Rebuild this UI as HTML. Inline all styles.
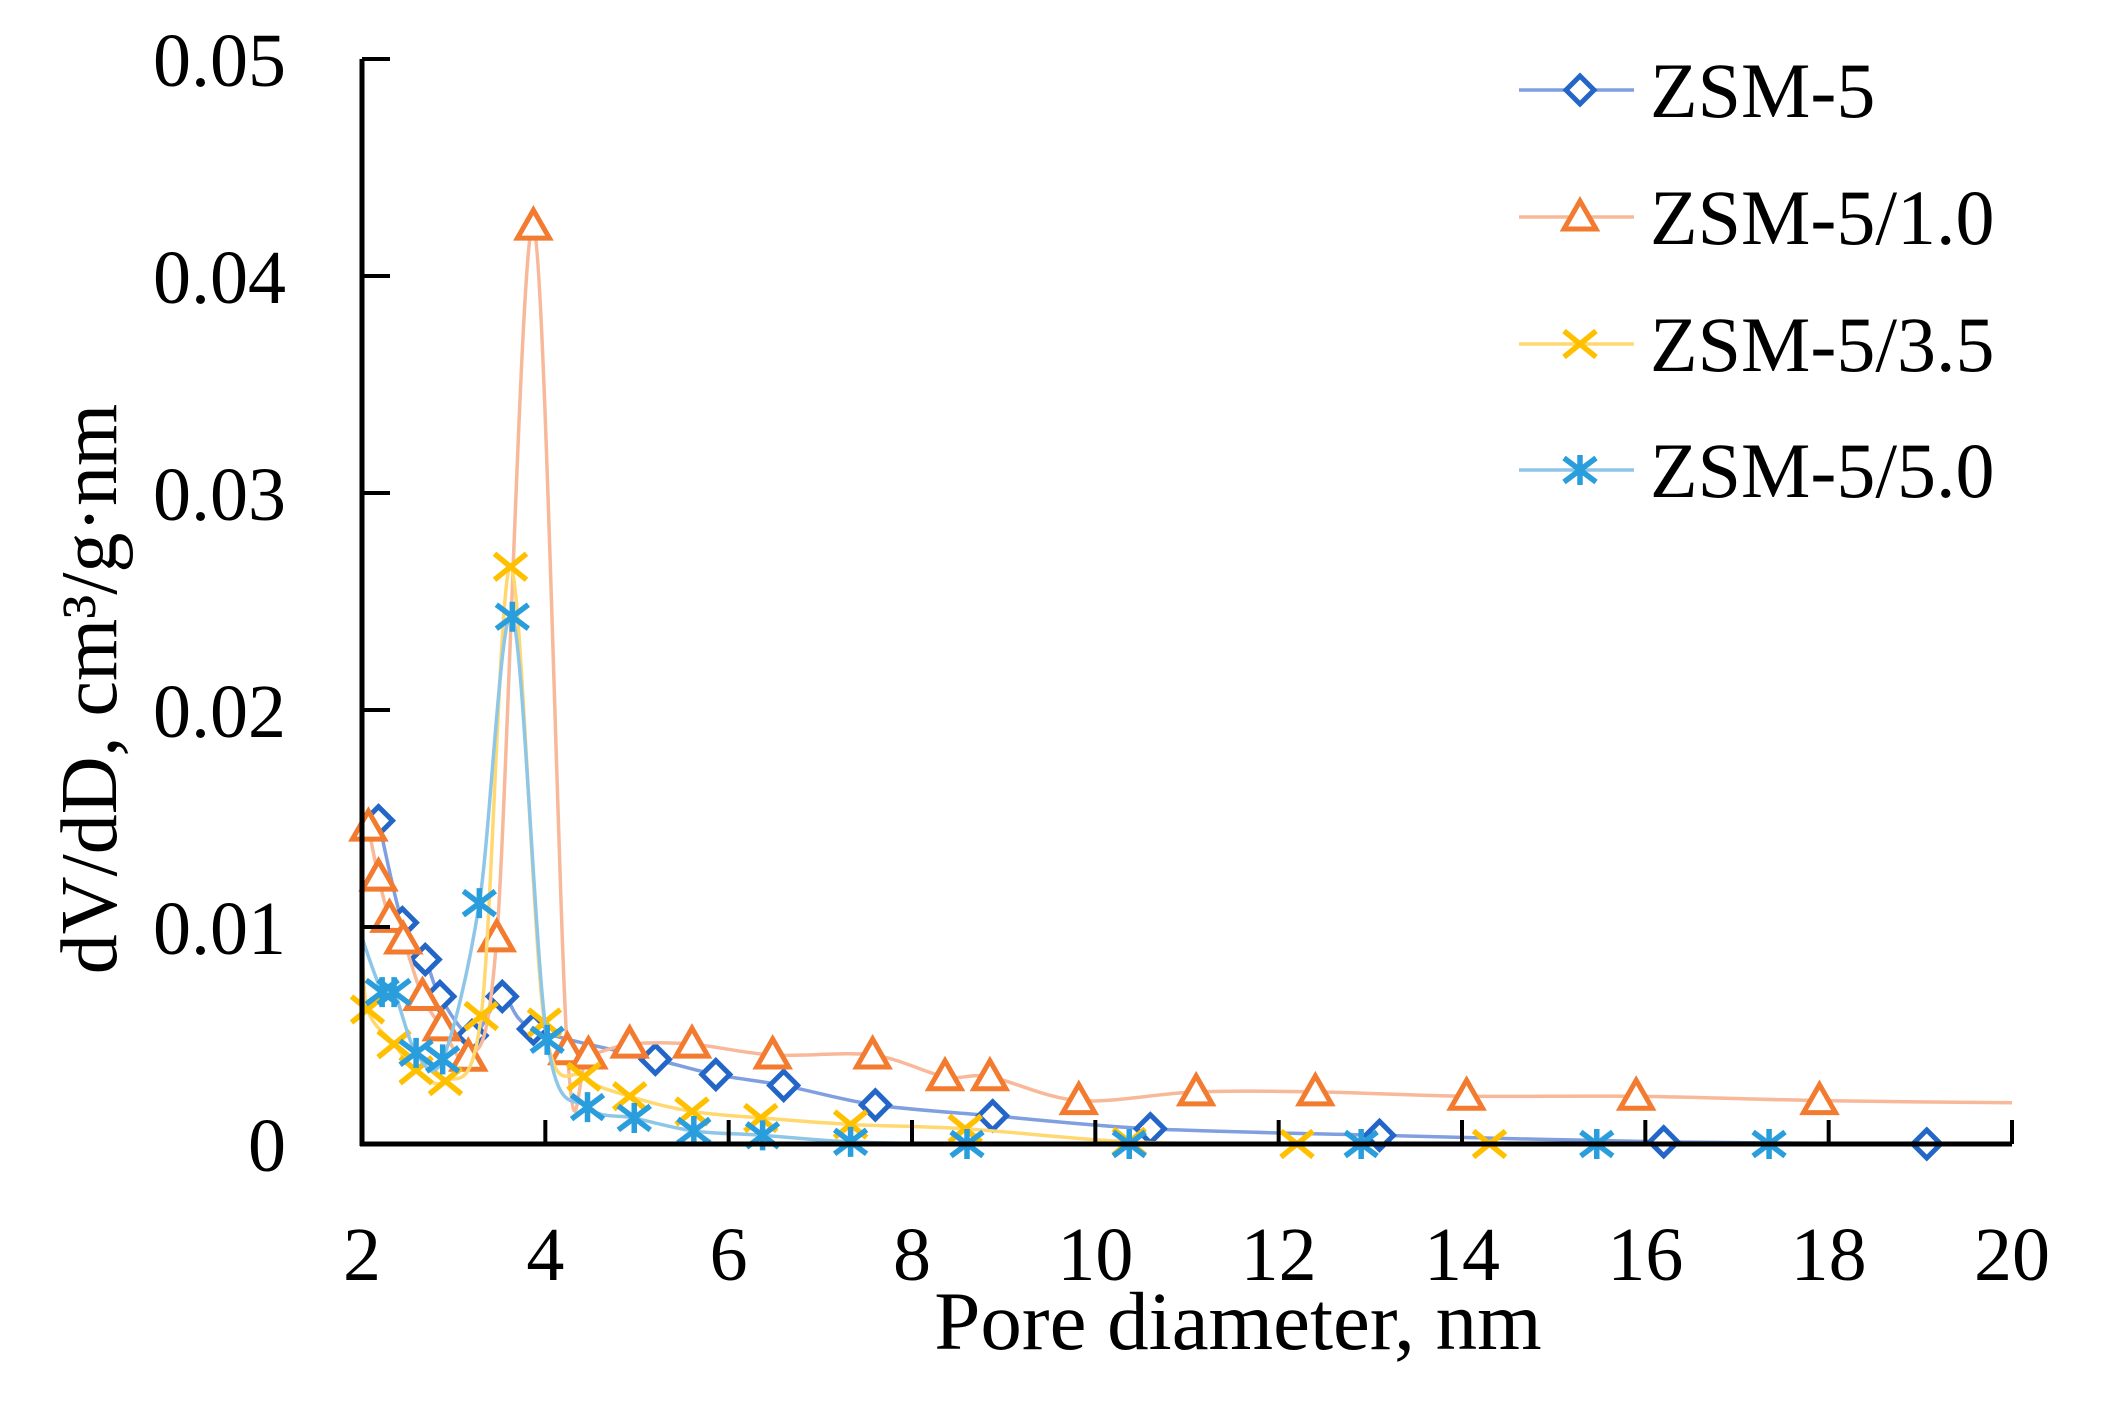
<!DOCTYPE html>
<html><head><meta charset="utf-8"><style>
html,body{margin:0;padding:0;background:#fff;}
svg{display:block;font-family:"Liberation Serif",serif;}
</style></head><body>
<svg id="chart" width="2117" height="1419" viewBox="0 0 2117 1419" xmlns="http://www.w3.org/2000/svg">
<rect width="2117" height="1419" fill="#fff"/>
<g id="series"></g>
<g id="axes"></g>
<g id="legend"></g>
<text x="1238" y="1349" font-size="83" text-anchor="middle">Pore diameter, nm</text>
<text transform="translate(116,689) rotate(-90)" font-size="80" text-anchor="middle">dV/dD, cm³/g·nm</text>
</svg>
<script>
const xTicks=[2,4,6,8,10,12,14,16,18,20];
const yTicks=[0,0.01,0.02,0.03,0.04,0.05];
const yTickLabels=["0","0.01","0.02","0.03","0.04","0.05"];
const seriesNames=["ZSM-5","ZSM-5/1.0","ZSM-5/3.5","ZSM-5/5.0"];
const zsm5X=[2.18,2.44,2.69,2.85,3.2,3.53,3.87,5.2,5.86,6.6,7.6,8.88,10.6,13.1,16.2,19.07];
const zsm5Y=[0.0149,0.0102,0.0085,0.0068,0.005,0.0068,0.0053,0.0039,0.0032,0.0027,0.0018,0.0013,0.0007,0.0004,0.0001,0];
const z10X=[2.07,2.18,2.3,2.45,2.66,2.87,3.16,3.47,3.87,4.24,4.47,4.92,5.6,6.48,7.57,8.36,8.85,9.82,11.1,12.4,14.05,15.9,17.9,20];
const z10Y=[0.0146,0.0123,0.0104,0.0094,0.0068,0.0054,0.004,0.0095,0.0423,0.0043,0.0041,0.0046,0.0046,0.0041,0.0041,0.0031,0.0031,0.002,0.0024,0.0024,0.0022,0.0022,0.002,0.0019];
const z35X=[2.0,2.06,2.35,2.59,2.91,3.3,3.62,3.99,4.42,4.92,5.6,6.35,7.33,8.58,10.37,12.2,14.3,20];
const z35Y=[0.0095,0.0062,0.0046,0.0034,0.0029,0.0059,0.0266,0.0056,0.0031,0.0022,0.0015,0.0012,0.0009,0.0007,0.0001,0,0,0];
const z50X=[2.0,2.22,2.35,2.59,2.88,3.28,3.64,4.02,4.46,4.97,5.62,6.37,7.33,8.6,10.37,12.9,15.47,17.35,20];
const z50Y=[0.0095,0.007,0.007,0.0042,0.0039,0.0111,0.0243,0.0048,0.0017,0.0012,0.0006,0.0004,0.0001,0,0,0,0,0,0];
const z35Markers=[false,true,true,true,true,true,true,true,true,true,true,true,true,true,true,true,true,false];
const z50Markers=[false,true,true,true,true,true,true,true,true,true,true,true,true,true,true,true,true,true,false];

const X0=362,X1=2012,Y0=1144,Y1=59;
function sx(v){return X0+(v-2)/18*(X1-X0);}
function sy(v){return Y0-v/0.05*(Y0-Y1);}
const NS="http://www.w3.org/2000/svg";
function mk(tag,attrs,parent){const e=document.createElementNS(NS,tag);for(const k in attrs)e.setAttribute(k,attrs[k]);parent.appendChild(e);return e;}
function smooth(pts){
  let d="M"+pts[0][0]+","+pts[0][1];
  for(let i=0;i<pts.length-1;i++){
    const p0=pts[Math.max(0,i-1)],p1=pts[i],p2=pts[i+1],p3=pts[Math.min(pts.length-1,i+2)];
    const t=0.16;
    const c1=[p1[0]+(p2[0]-p0[0])*t,p1[1]+(p2[1]-p0[1])*t];
    const c2=[p2[0]-(p3[0]-p1[0])*t,p2[1]-(p3[1]-p1[1])*t];
    d+=" C"+c1+" "+c2+" "+p2;
  }
  return d;
}
function marker(type,x,y,color,parent){
  const s=14;let e;
  if(type==="diamond"){e=mk("polygon",{points:`${x},${y-s} ${x+s},${y} ${x},${y+s} ${x-s},${y}`,fill:"#fff",stroke:color,"stroke-width":5},parent);}
  else if(type==="triangle"){e=mk("polygon",{points:`${x},${y-16} ${x+16},${y+12} ${x-16},${y+12}`,fill:"#fff",stroke:color,"stroke-width":5},parent);}
  else if(type==="x"){e=mk("path",{d:`M${x-16},${y-13}L${x+16},${y+13}M${x-16},${y+13}L${x+16},${y-13}`,stroke:color,"stroke-width":5.5,fill:"none"},parent);}
  else {e=mk("path",{d:`M${x-16},${y-12}L${x+16},${y+12}M${x-16},${y+12}L${x+16},${y-12}M${x},${y-15}L${x},${y+15}`,stroke:color,"stroke-width":5.5,fill:"none"},parent);}
  return e;
}
const sg=document.getElementById("series");
const defs=[
 {name:"zsm-5",xs:zsm5X,ys:zsm5Y,line:"#7f9fe0",mc:"#2466c8",m:"diamond",show:null},
 {name:"zsm-5-1-0",xs:z10X,ys:z10Y,line:"#f8b89a",mc:"#f27b30",m:"triangle",show:z10X.map((v,i)=>i<z10X.length-1)},
 {name:"zsm-5-3-5",xs:z35X,ys:z35Y,line:"#ffd870",mc:"#ffc000",m:"x",show:z35Markers},
 {name:"zsm-5-5-0",xs:z50X,ys:z50Y,line:"#8ec6e8",mc:"#2a9ddc",m:"star",show:z50Markers}
];
defs.forEach(s=>{
  const g=mk("g",{},sg);
  
  
  const pts=s.xs.map((v,i)=>[sx(v),sy(s.ys[i])]);
  const p=mk("path",{d:smooth(pts),fill:"none",stroke:s.line,"stroke-width":3.5},g);
  
  
  s.g=g;s.pts=pts;
});
defs.forEach(s=>{
  s.pts.forEach((pt,i)=>{
    if(s.show && !s.show[i])return;
    const e=marker(s.m,pt[0],pt[1],s.mc,s.g);
    
    
  });
});
const ax=document.getElementById("axes");
const yl=mk("line",{x1:X0,y1:Y0+2,x2:X0,y2:Y1,stroke:"#000","stroke-width":5},ax);


const xl=mk("line",{x1:X0-2,y1:Y0,x2:X1,y2:Y0,stroke:"#000","stroke-width":5},ax);


yTicks.forEach((v,i)=>{
  const t=mk("line",{x1:X0,y1:sy(v),x2:X0+28,y2:sy(v),stroke:"#000","stroke-width":4},ax);
  
  
  const l=mk("text",{x:286,y:sy(v)+27,"font-size":76,"text-anchor":"end"},ax);
  l.textContent=yTickLabels[i];
  
  
});
xTicks.forEach(v=>{
  if(v>2){const t=mk("line",{x1:sx(v),y1:Y0,x2:sx(v),y2:Y0-24,stroke:"#000","stroke-width":4},ax);
  
  }
  const l=mk("text",{x:sx(v),y:1280,"font-size":76,"text-anchor":"middle"},ax);
  l.textContent=String(v);
  
  
});
const lg=document.getElementById("legend");
const ly=[90,217,344,470];
defs.forEach((s,i)=>{
  const g=mk("g",{},lg);
  
  
  mk("line",{x1:1519,y1:ly[i],x2:1634,y2:ly[i],stroke:s.line,"stroke-width":3.5},g);
  marker(s.m,1580,ly[i],s.mc,g);
  const t=mk("text",{x:1650,y:ly[i]+27,"font-size":78},g);
  t.textContent=seriesNames[i];
});
</script>
</body></html>
